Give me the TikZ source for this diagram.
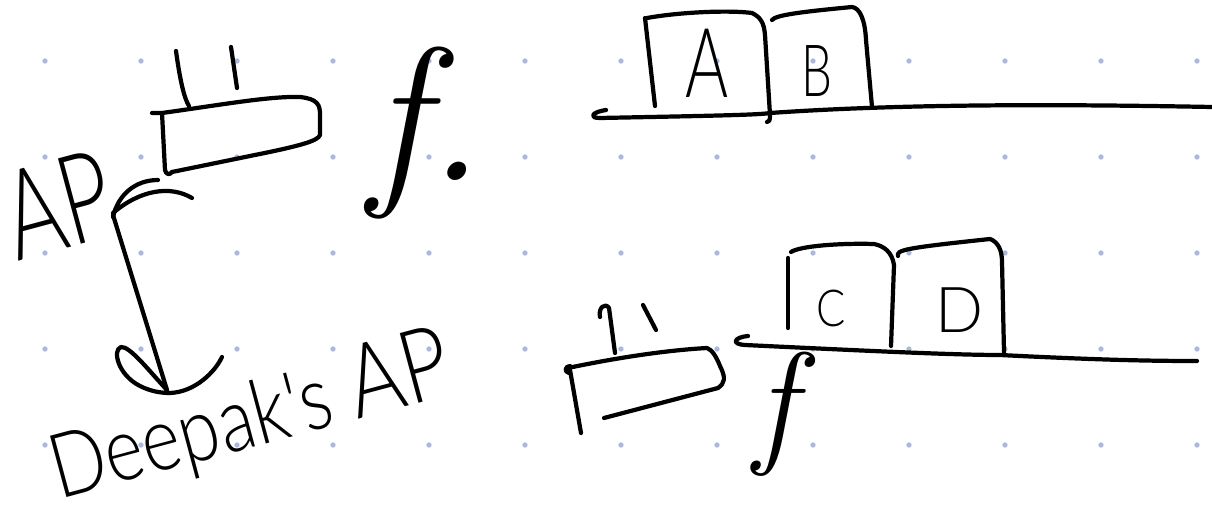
\documentclass[tikz,border=0pt]{standalone}
\usepackage{fontspec}
\usepackage{graphicx}
\newfontfamily\handfont{Lato}[UprightFont=* Light]
\definecolor{dotblue}{HTML}{A9BBD8}

\begin{document}
\begin{tikzpicture}[x=0.02cm,y=-0.02cm,
    ink/.style={line width=2.4pt,line cap=round,line join=round},
    griddot/.style={fill=dotblue},
    hand/.style={inner sep=0pt,font=\handfont}]
    \useasboundingbox (0,0) rectangle (1212,506);

    % Dot grid
    \foreach \i in {0,...,12}
        \foreach \j in {0,...,4}
            \fill[griddot] ({45+96*\i},{61+96*\j}) circle (1.5pt);

    % Upper block and its two marks
    \draw[ink] (152,113) -- (162,113) .. controls (220,105) and (270,96) .. (300,97)
        .. controls (318,99) and (320,105) .. (320,115) -- (320,135)
        .. controls (318,141) and (300,146) .. (250,156) -- (172,172);
    \draw[ink] (162,113) -- (165,170) .. controls (166,175) and (170,175) .. (172,172);
    \draw[ink] (176,51) .. controls (180,80) and (184,98) .. (189,106);
    \draw[ink] (231,47) -- (237,88);
    \node[inner sep=0pt,anchor=base] (ftop) at (426,181) {\fontsize{108}{108}\selectfont\itshape f.};

    % Label and its arrow
    \node[hand,rotate=15] (ap) at (58,205) {\fontsize{71}{71}\selectfont\scalebox{0.7}[1]{AP}};
    \coordinate (hooktop) at (113,215);
    \coordinate (arrowtip) at (167,390);
    \draw[ink] (113,217) .. controls (118,195) and (135,180) .. (158,180);
    \draw[ink] (113,213) .. controls (140,190) and (170,185) .. (192,198);
    \draw[ink] (hooktop) -- (arrowtip);
    \draw[ink] (arrowtip) .. controls (150,372) and (130,346) .. (121,347)
        .. controls (112,350) and (118,375) .. (140,386)
        .. controls (150,391) and (160,393) .. (170,393)
        .. controls (195,392) and (215,372) .. (222,357);
    \node[hand,rotate=15,anchor=base] (deepak) at (258,446) {\fontsize{51}{51}\selectfont\scalebox{0.82}[1]{Deepak's \fontsize{58}{58}\selectfont AP}};

    % Upper line with boxes A and B
    \draw[ink] (606,110) .. controls (592,112) and (588,118) .. (600,118)
        .. controls (700,116) and (760,115) .. (770,113)
        .. controls (900,104) and (1050,104) .. (1212,107);
    \draw[ink] (645,18) -- (655,106);
    \draw[ink] (647,18) .. controls (680,12) and (730,10) .. (752,13)
        .. controls (760,17) and (764,22) .. (765,35) -- (770,115)
        .. controls (770,121) and (769,122) .. (767,122);
    \draw[ink] (772,20) .. controls (776,15) and (800,12) .. (852,7)
        .. controls (860,8) and (865,20) .. (866,40) -- (872,107);
    \node[hand] (boxa) at (707,63) {\fontsize{55}{55}\selectfont\scalebox{0.68}[1]{A}};
    \node[hand] (boxb) at (817,71) {\fontsize{41}{41}\selectfont\scalebox{0.68}[1]{B}};

    % Lower block and its two marks
    \draw[ink] (570,366) .. controls (565,366) and (564,372) .. (569,373);
    \draw[ink] (568,368) .. controls (620,357) and (670,350) .. (707,348)
        .. controls (712,350) and (716,356) .. (720,366)
        .. controls (726,378) and (725,383) .. (718,388) -- (604,418);
    \draw[ink] (570,370) -- (581,433);
    \draw[ink] (600,317) .. controls (598,308) and (605,302) .. (609,308) -- (615,353);
    \draw[ink] (643,305) -- (656,330);
    \node[inner sep=0pt,anchor=base] (fbottom) at (775,448) {\fontsize{78}{78}\selectfont\itshape f};

    % Lower line with boxes C and D
    \draw[ink] (748,336) .. controls (735,337) and (730,344) .. (745,345)
        .. controls (850,350) and (950,355) .. (1000,355)
        .. controls (1100,360) and (1150,361) .. (1197,361);
    \draw[ink] (788,258) -- (788,328);
    \draw[ink] (791,252) .. controls (800,246) and (840,243) .. (874,244)
        .. controls (884,246) and (892,252) .. (894,265) -- (891,346);
    \draw[ink] (898,256) .. controls (896,250) and (905,248) .. (990,239)
        .. controls (998,242) and (1002,250) .. (1002,262) -- (1004,352);
    \node[hand] (boxc) at (831,308) {\fontsize{29}{29}\selectfont\scalebox{0.85}[1]{C}};
    \node[hand] (boxd) at (960,310) {\fontsize{36}{36}\selectfont D};
\end{tikzpicture}
\end{document}
